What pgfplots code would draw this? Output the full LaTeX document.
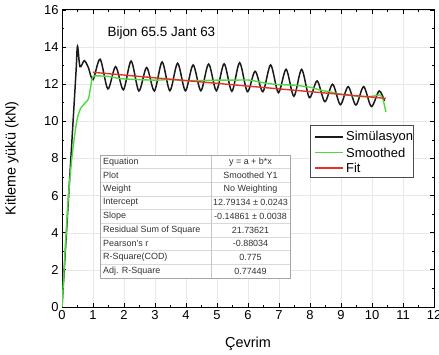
\documentclass[border=0pt]{standalone}
\usepackage{pgfplots}
\pgfplotsset{compat=1.18}
\usepackage{fontspec}
\setmainfont{Liberation Sans}
\definecolor{simc}{HTML}{1A1A1A}
\definecolor{smc}{HTML}{4CDB3C}
\definecolor{fitc}{HTML}{E8302A}
\definecolor{tabtxt}{HTML}{333333}
\begin{document}
\begin{tikzpicture}
\begin{axis}[
  scale only axis,
  width=372bp, height=297bp,
  xmin=0, xmax=12, ymin=0, ymax=16,
  xtick={0,1,...,12}, ytick={0,2,...,16},
  minor x tick num=1, minor y tick num=1,
  tick align=inside, tick pos=both,
  major tick length=4bp, minor tick length=2.5bp,
  axis line style={line width=1pt},
  every tick/.style={black, line width=0.8pt},
  grid=major, major grid style={gray!18, line width=0.4pt},
  /pgf/number format/assume math mode=true,
  ticklabel style={font=\fontsize{13}{15}\selectfont},
  xlabel={Çevrim}, ylabel={Kitleme yükü (kN)},
  label style={font=\fontsize{14.5}{16}\selectfont},
  xlabel style={at={(axis description cs:0.5,-0.1246)}, anchor=center},
  ylabel style={at={(axis description cs:-0.1344,0.5)}, anchor=center},
]
\addplot[simc, line width=1.5pt, smooth, tension=0.5] coordinates {
(0,0) (0.1,2.8) (0.3,8.4) (0.45,12.6) (0.5,14.05) (0.58,12.95) (0.72,13.27)
(0.85,12.9) (1.0,12.25) (1.23,13.35) (1.48,11.75) (1.73,12.95) (1.98,11.7)
(2.23,13.25) (2.48,11.64) (2.73,12.9) (2.98,11.64) (3.23,13.2) (3.48,11.65)
(3.73,13.13) (3.98,11.65) (4.23,13.04) (4.48,11.65) (4.73,13.09) (4.98,11.65)
(5.23,13.1) (5.48,11.62) (5.73,13.16) (5.98,11.6) (6.23,12.7) (6.48,11.6)
(6.73,13.04) (6.98,11.55) (7.23,12.8) (7.48,11.35) (7.73,12.8) (7.98,11.28)
(8.23,12.18) (8.48,11.06) (8.73,12.0) (8.98,10.9) (9.23,11.87) (9.48,10.88)
(9.73,11.87) (9.98,10.8) (10.23,11.64) (10.4,11.1)
};
\addplot[smc, line width=1.4pt, smooth, tension=0.4] coordinates {
(0,0) (0.1,3.0) (0.2,5.8) (0.31,7.9) (0.42,9.4) (0.5,10.2) (0.6,10.7)
(0.75,11.0) (0.85,11.2) (0.92,11.8) (0.97,12.3) (1.05,12.45) (1.5,12.42)
(1.9,12.3) (2.5,12.25) (3.0,12.22) (3.5,12.25) (4.0,12.2) (4.5,12.2)
(5.0,12.22) (5.5,12.22) (6.0,12.23) (6.3,12.15) (6.6,12.05) (7.0,11.98)
(7.5,11.95) (8.0,11.84) (8.3,11.7) (8.6,11.6) (9.0,11.46) (9.4,11.38)
(9.7,11.33) (10.0,11.35) (10.26,11.42) (10.35,11.2) (10.45,10.5)
};
\addplot[fitc, line width=1.4pt] coordinates {(1.0,12.643) (10.45,11.238)};
\node[anchor=west, font=\fontsize{13.5}{15}\selectfont] at (rel axis cs:0.113,0.922) {Bijon 65.5 Jant 63};
\end{axis}
% legend
\begin{scope}[x=1bp, y=1bp, font=\fontsize{13}{14}\selectfont]
\draw[black!70, fill=white, line width=0.6pt] (248,130) rectangle (351,182);
\draw[simc, line width=1.5pt] (253,170) -- (281,170);
\draw[smc, line width=1.4pt] (253,154.5) -- (281,154.5);
\draw[fitc, line width=1.4pt] (253,139) -- (281,139);
\node[anchor=west, inner sep=0pt] at (284,170) {Simülasyon};
\node[anchor=west, inner sep=0pt] at (284,154.5) {Smoothed};
\node[anchor=west, inner sep=0pt] at (284,139) {Fit};
\end{scope}
% result table
\begin{scope}[x=1bp, y=1bp, font=\fontsize{9}{10}\selectfont, text=tabtxt]
\fill[white] (38,29) rectangle (228,152);
\foreach \k in {1,...,8} {
  \draw[gray!30, line width=0.4pt] (38,{152-13.667*\k}) -- (228,{152-13.667*\k});
}
\draw[gray!45, line width=0.4pt] (149,29) -- (149,152);
\draw[gray!70, line width=0.6pt] (38,29) rectangle (228,152);
\foreach \k/\a/\b in {0/Equation/{y = a + b*x}, 1/Plot/{Smoothed Y1}, 2/Weight/{No Weighting},
  3/Intercept/{12.79134 ± 0.0243}, 4/Slope/{-0.14861 ± 0.0038},
  5/Residual Sum of Square/{21.73621}, 6/Pearson's r/{-0.88034},
  7/R-Square(COD)/{0.775}, 8/Adj. R-Square/{0.77449}} {
  \node[anchor=west, inner sep=0pt] at (41,{152-13.667*(\k+0.5)}) {\a};
  \node[anchor=center, inner sep=0pt] at (188.5,{152-13.667*(\k+0.5)}) {\b};
}
\end{scope}
\pgfresetboundingbox
\useasboundingbox (-62bp,-48bp) rectangle (377bp,307bp);
\end{tikzpicture}
\end{document}
